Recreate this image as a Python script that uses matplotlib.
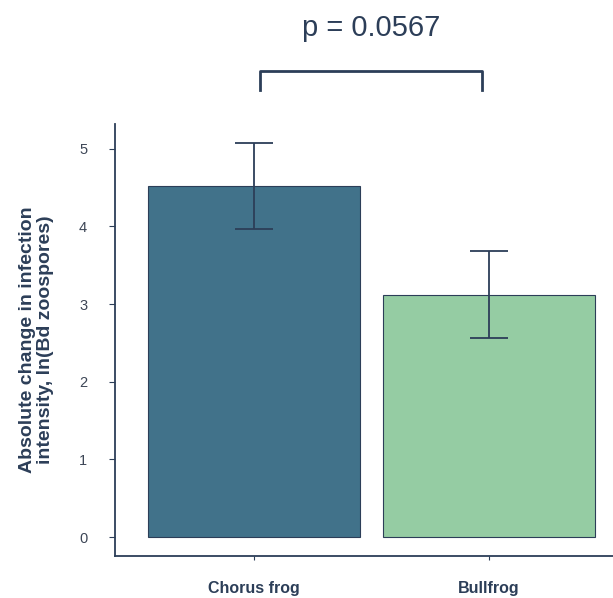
import numpy as np
import matplotlib
matplotlib.use("Agg")
import matplotlib.pyplot as plt

plt.rcParams['font.family'] = ['Liberation Sans', 'DejaVu Sans']

species = ['Chorus frog', 'Bullfrog']
means = [4.52, 3.12]
errs = [0.55, 0.56]
bar_colors = ['#41728a', '#95cca3']
p_text = 'p = 0.0567'

ink = '#2c3e58'

fig = plt.figure(figsize=(6.13, 5.98), dpi=100)
ax = fig.add_axes([0.1876, 0.0702, 0.8124, 0.7224])

xpos = np.arange(len(species))
ax.bar(xpos, means, width=0.905, color=bar_colors, edgecolor=ink, linewidth=0.8)
ax.errorbar(xpos, means, yerr=errs, fmt='none', ecolor=ink, elinewidth=1.3,
            capsize=14, capthick=1.3)

ax.set_xlim(-0.594, 1.53)
ax.set_ylim(-0.245, 5.32)
ax.set_yticks([0, 1, 2, 3, 4, 5])
ax.set_xticks(xpos)
ax.set_xticklabels(species, fontweight='bold', fontsize=11.5, color=ink)
ax.tick_params(axis='x', length=3, pad=15, color=ink)
ax.tick_params(axis='y', length=4, labelsize=10.5, labelcolor='#3d4656', color=ink, pad=16)

for s in ['top', 'right']:
    ax.spines[s].set_visible(False)
for s in ['left', 'bottom']:
    ax.spines[s].set_color(ink)
    ax.spines[s].set_linewidth(1.3)

ax.set_ylabel('Absolute change in infection\nintensity, ln(Bd zoospores)',
              fontsize=14, fontweight='bold', color=ink, labelpad=18,
              linespacing=1.1)

# significance bracket
bx = [0.026, 0.026, 0.97, 0.97]
by = [5.76, 6.0, 6.0, 5.76]
ax.plot(bx, by, color=ink, lw=2, clip_on=False, solid_joinstyle='round')
ax.text(0.5, 6.56, p_text, ha='center', va='center', fontsize=21, color=ink,
        clip_on=False)

fig.savefig('out.png', dpi=100)
